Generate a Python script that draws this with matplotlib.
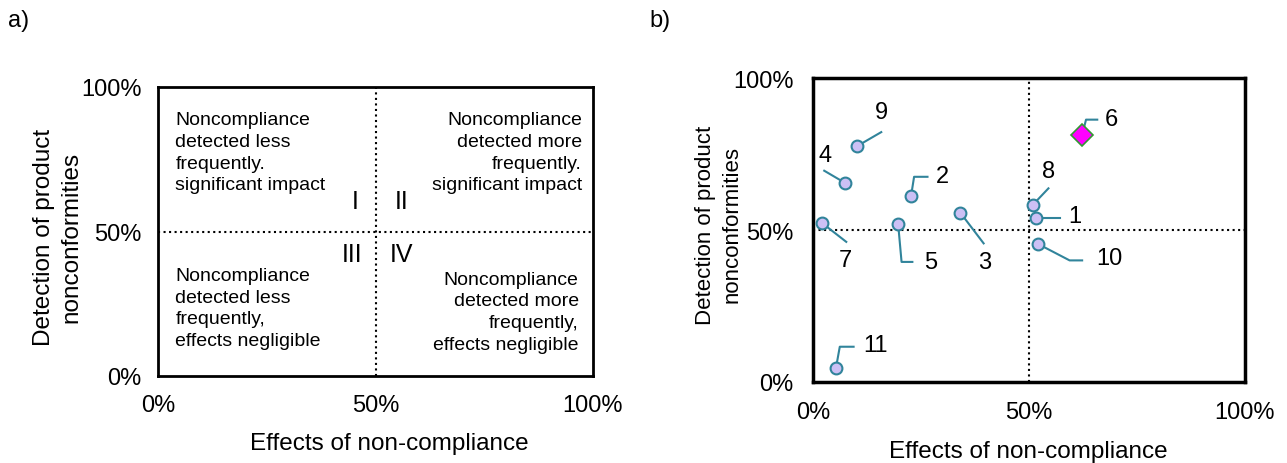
import numpy as np
import matplotlib
matplotlib.use("Agg")
import matplotlib.pyplot as plt
from matplotlib.ticker import PercentFormatter

plt.rcParams['font.family'] = ['Liberation Sans', 'DejaVu Sans']

# panel b data (fractions of 100%)
ids = ['1', '2', '3', '4', '5', '6', '7', '8', '9', '10', '11']
effects = [0.517, 0.227, 0.341, 0.074, 0.197, 0.623, 0.020, 0.509, 0.101, 0.521, 0.053]
detection = [0.540, 0.612, 0.557, 0.655, 0.521, 0.8125, 0.524, 0.583, 0.775, 0.454, 0.045]
highlight = '6'

ticks = [0, 0.5, 1.0]
xlabel = 'Effects of non-compliance'
ylabel = 'Detection of product\nnonconformities'

quad_text = {
    'TL': 'Noncompliance\ndetected less\nfrequently.\nsignificant impact',
    'TR': 'Noncompliance\ndetected more\nfrequently.\nsignificant impact',
    'BL': 'Noncompliance\ndetected less\nfrequently,\neffects negligible',
    'BR': 'Noncompliance\ndetected more\nfrequently,\neffects negligible',
}
quad_nums = ['I', 'II', 'III', 'IV']

# leader line layout for panel b: (elbow or None, line end, label pos)
leaders = {
    '1': (None, (0.571, 0.540), (0.606, 0.546)),
    '2': ((0.234, 0.675), (0.265, 0.675), (0.300, 0.679)),
    '3': (None, (0.395, 0.456), (0.397, 0.396)),
    '4': (None, (0.026, 0.695), (0.027, 0.748)),
    '5': ((0.205, 0.395), (0.230, 0.395), (0.273, 0.395)),
    '6': ((0.632, 0.863), (0.658, 0.863), (0.691, 0.865)),
    '7': (None, (0.077, 0.461), (0.074, 0.400)),
    '8': (None, (0.545, 0.637), (0.545, 0.695)),
    '9': (None, (0.158, 0.822), (0.158, 0.889)),
    '10': ((0.594, 0.400), (0.623, 0.400), (0.687, 0.409)),
    '11': ((0.062, 0.116), (0.094, 0.116), (0.145, 0.122)),
}

teal = '#31849b'
lav = '#ccc0f5'

fig = plt.figure(figsize=(12.87, 4.64), dpi=100)
axa = fig.add_axes([158/1287, 87/464, 435/1287, 289/464])
axb = fig.add_axes([813/1287, 81/464, 432/1287, 304/464])

for ax, lw, xpad, ypad in ((axa, 2.0, 13, 12), (axb, 2.5, 14, 14)):
    ax.set_xlim(0, 1)
    ax.set_ylim(0, 1)
    ax.set_xticks(ticks)
    ax.set_yticks(ticks)
    ax.xaxis.set_major_formatter(PercentFormatter(1.0, decimals=0))
    ax.yaxis.set_major_formatter(PercentFormatter(1.0, decimals=0))
    ax.tick_params(length=0, labelsize=17)
    ax.tick_params(axis='x', pad=xpad)
    ax.tick_params(axis='y', pad=ypad)
    for s in ax.spines.values():
        s.set_linewidth(lw)
    ax.axhline(0.5, color='black', ls=':', lw=1.5)
    ax.axvline(0.5, color='black', ls=':', lw=1.5)

axa.text(0.532, -0.232, xlabel, transform=axa.transAxes, fontsize=17.5, ha='center', va='center')
axa.text(-0.230, 0.484, ylabel, transform=axa.transAxes, fontsize=17.5, ha='center', va='center',
         rotation=90, linespacing=1.3)
axb.text(0.498, -0.227, xlabel, transform=axb.transAxes, fontsize=17.5, ha='center', va='center')
axb.text(-0.218, 0.52, ylabel, transform=axb.transAxes, fontsize=16, ha='center', va='center',
         rotation=90, linespacing=1.4)

# panel a text
fs = 14
ls = 1.36
axa.text(0.04, 0.916, quad_text['TL'], ha='left', va='top', fontsize=fs, linespacing=ls)
axa.text(0.975, 0.916, quad_text['TR'], ha='right', va='top', fontsize=fs, linespacing=ls)
axa.text(0.04, 0.377, quad_text['BL'], ha='left', va='top', fontsize=fs, linespacing=ls)
axa.text(0.967, 0.365, quad_text['BR'], ha='right', va='top', fontsize=fs, linespacing=ls)
for t, x, y in zip(quad_nums, [0.453, 0.559, 0.445, 0.56], [0.606, 0.606, 0.422, 0.422]):
    axa.text(x, y, t, ha='center', va='center', fontsize=18)

# panel b points + leaders
for i, x, y in zip(ids, effects, detection):
    elbow, end, lab = leaders[i]
    xs = [x] + ([elbow[0]] if elbow else []) + [end[0]]
    ys = [y] + ([elbow[1]] if elbow else []) + [end[1]]
    axb.plot(xs, ys, color=teal, lw=1.5, zorder=2)
    if i == highlight:
        axb.plot(x, y, marker='D', ms=11, mfc='#ff00ff', mec='#339933', mew=1.2, zorder=3)
    else:
        axb.plot(x, y, marker='o', ms=8.5, mfc=lav, mec=teal, mew=1.5, zorder=3)
    axb.text(lab[0], lab[1], i, ha='center', va='center', fontsize=17)

fig.text(0.006, 0.955, 'a)', fontsize=17, ha='left', va='center')
fig.text(0.505, 0.955, 'b)', fontsize=17, ha='left', va='center')

fig.savefig('out.png', dpi=100)
